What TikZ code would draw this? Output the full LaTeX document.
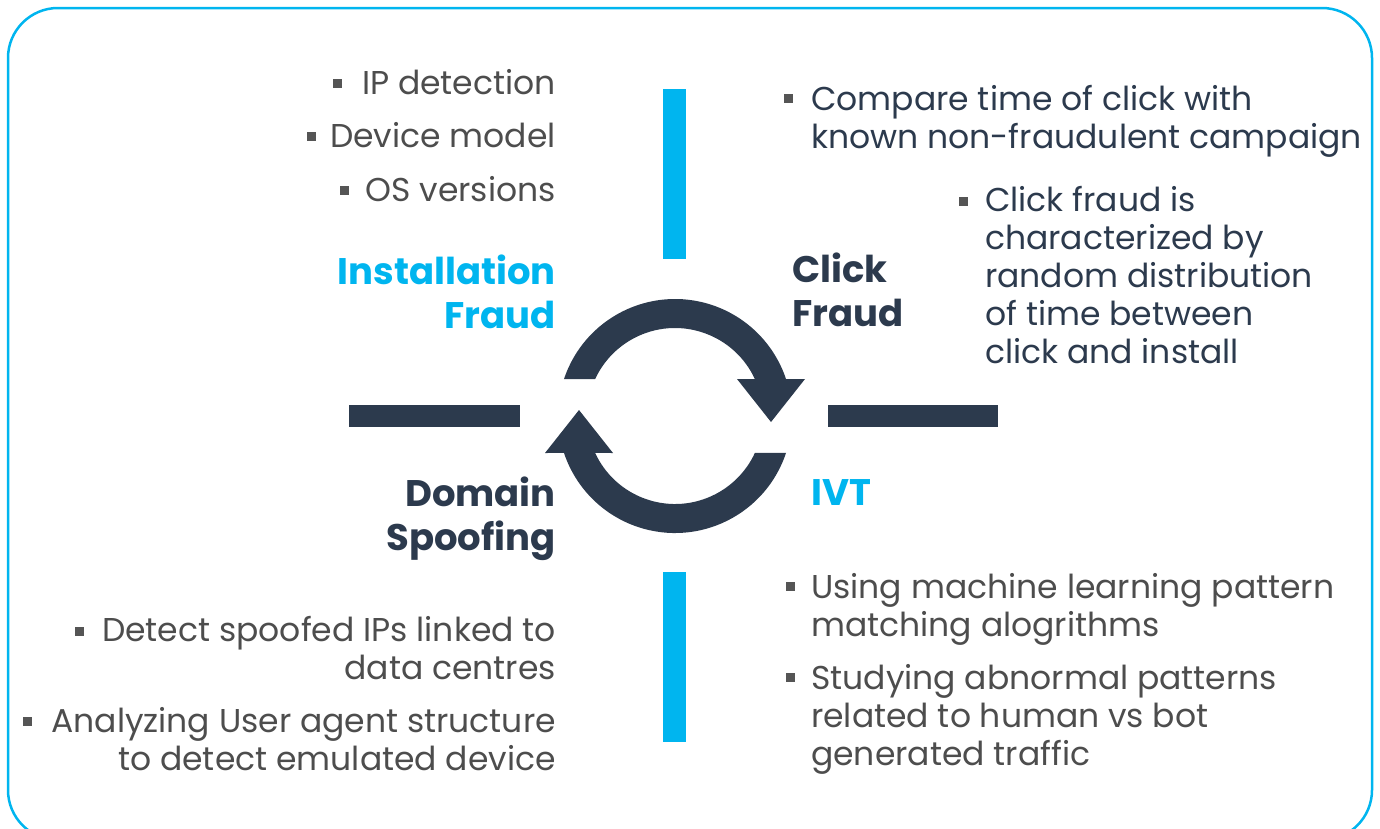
\documentclass[tikz,border=0pt]{standalone}
\usepackage{fontspec}
\setmainfont{Poppins}

\definecolor{brandcyan}{HTML}{00B5EF}
\definecolor{brandnavy}{HTML}{2C3A4D}
\definecolor{txtgrey}{HTML}{4D4D4D}
\definecolor{bulgrey}{HTML}{555555}

\newcommand\itemfont{\fontsize{33}{38}\selectfont}
\newcommand\headfont{\fontsize{37}{44}\selectfont\bfseries}

\tikzset{
    item/.style = {font=\itemfont, text=txtgrey, inner sep=0pt},
    head/.style = {font=\headfont, inner sep=0pt},
    bul/.style  = {fill=bulgrey, minimum size=9pt, inner sep=0pt},
    bar/.style  = {line width=22.5pt},
}

\begin{document}
\begin{tikzpicture}[x=1pt, y=-1pt]
                    \useasboundingbox (0,0) rectangle (1380,828);
                    \clip (0,0) rectangle (1380,828);
                    \draw[brandcyan, line width=2.5pt, rounded corners=50pt] (8,8) rectangle (1372,840);
                    % cross bars
                    \draw[bar, brandcyan] (674.5,89) -- (674.5,259);
                    \draw[bar, brandcyan] (674.5,572) -- (674.5,742);
                    \draw[bar, brandnavy] (349,416) -- (520,416);
                    \draw[bar, brandnavy] (828,416) -- (998,416);
                    % the two circular arrows
                    \foreach \r in {0,180}
                        \fill[brandnavy, shift={(675,416)}, rotate=\r]
                            (198.4:117) arc[start angle=198.4, end angle=341.6, radius=117]
                            -- (130,-37) -- (96,6) -- (62,-37)
                            -- (335.2:88) arc[start angle=335.2, end angle=204.8, radius=88]
                            -- cycle;
                    % headings (base = last line)
                    \node[head, text=brandcyan, anchor=base east, align=right] (install) at (556,328) {Installation\\Fraud};
                    \node[head, text=brandnavy, anchor=base west, align=left] (click) at (792,326) {Click\\Fraud};
                    \node[head, text=brandnavy, anchor=base east, align=right] (domain) at (556,550) {Domain\\Spoofing};
                    \node[head, text=brandcyan, anchor=base west] (ivt) at (811,505) {IVT};
                    % installation fraud
                    \node[item, anchor=base east] (ip) at (556,94) {IP detection};
                    \node[item, anchor=base east] (device) at (556,147) {Device model};
                    \node[item, anchor=base east] (os) at (556,201) {OS versions};
                    \node[bul] (b1) at (337,83) {};
                    \node[bul] (b2) at (311,136) {};
                    \node[bul] (b3) at (344,190) {};
                    % click fraud
                    \node[item, text=brandnavy, anchor=base west, align=left] (compare) at (811,148) {Compare time of click with\\known non-fraudulent campaign};
                    \node[item, text=brandnavy, anchor=base west, align=left] (random) at (985,363) {Click fraud is\\characterized by\\random distribution\\of time between\\click and install};
                    \node[bul] (b4) at (788,98) {};
                    \node[bul] (b5) at (963,201) {};
                    % domain spoofing
                    \node[item, anchor=base east, align=right] (spoof) at (556,679) {Detect spoofed IPs linked to\\data centres};
                    \node[item, anchor=base east, align=right] (agent) at (556,770) {Analyzing User agent structure\\to detect emulated device};
                    \node[bul] (b6) at (79,631) {};
                    \node[bul] (b7) at (27,721) {};
                    % IVT
                    \node[item, anchor=base west, align=left] (ml) at (811,636) {Using machine learning pattern\\matching alogrithms};
                    \node[item, anchor=base west, align=left] (bot) at (811,765) {Studying abnormal patterns\\related to human vs bot\\generated traffic};
                    \node[bul] (b8) at (790,586) {};
                    \node[bul] (b9) at (790,677) {};
                \end{tikzpicture}
\end{document}
